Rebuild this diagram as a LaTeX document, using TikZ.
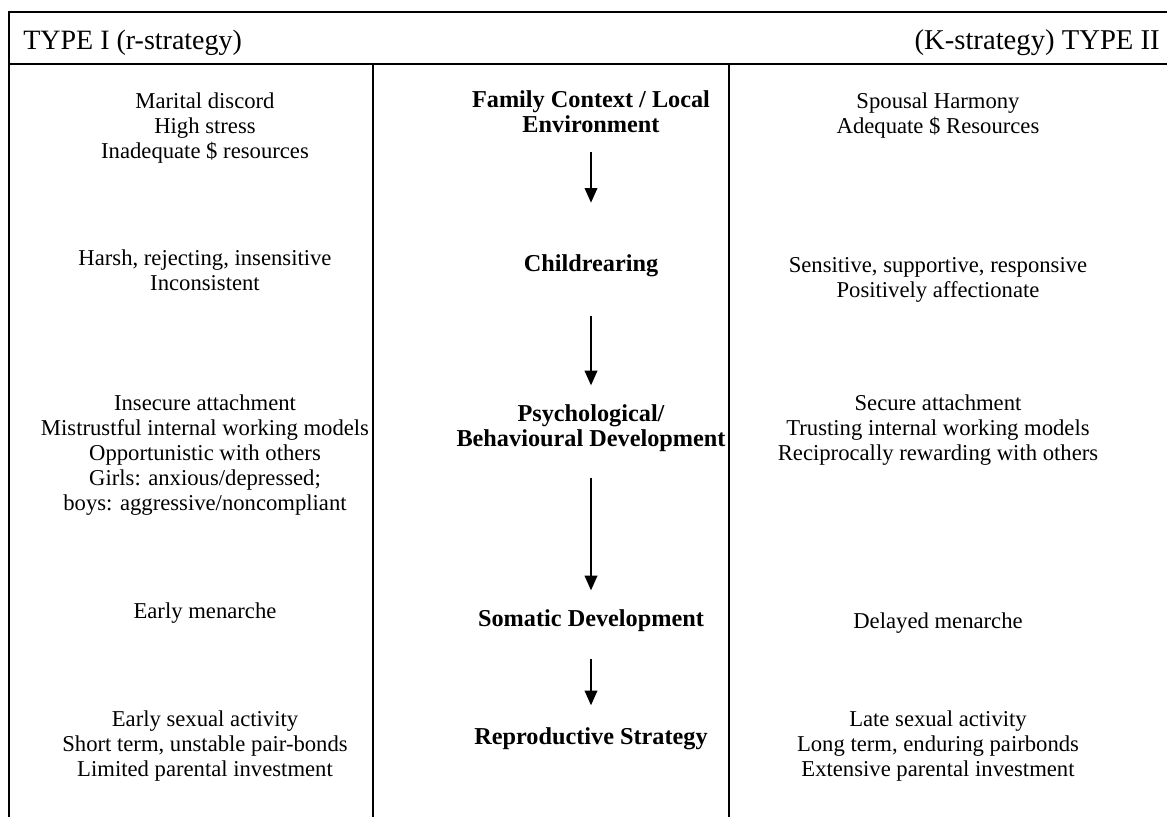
\documentclass[tikz,border=0pt]{standalone}
\usepackage{fontspec}
\setmainfont{Liberation Serif}
\usetikzlibrary{arrows.meta}

\begin{document}
\begin{tikzpicture}[x=0.75pt,y=-0.75pt,
    frame/.style={line width=1.4pt},
    item/.style={anchor=north,align=center,inner sep=0pt,
      font=\fontsize{17}{18.75}\selectfont},
    stage/.style={item,font=\fontsize{18.2}{18.8}\selectfont\bfseries},
    flow/.style={line width=1.1pt,-{Triangle[length=11pt,width=9.5pt]}}]
  \useasboundingbox (0,0) rectangle (1167,817);

  % table frame
  \draw[frame] (1167,12) -- (9,12) -- (9,817);
  \draw[frame] (9,64) -- (1167,64);
  \draw[frame] (373,64) -- (373,817);
  \draw[frame] (729,64) -- (729,817);

  % headings
  \node[anchor=base west, inner sep=0pt, font=\fontsize{21}{24}\selectfont] (typeI) at (23,50) {TYPE I (r-strategy)};
  \node[anchor=base east, inner sep=0pt, font=\fontsize{21.5}{24}\selectfont] (typeII) at (1160,50) {(K-strategy) TYPE II};

  % type I column
  \node[item] (left1) at (205,93) {Marital discord\\High stress\\Inadequate \$ resources};
  \node[item] (left2) at (205,250) {Harsh, rejecting, insensitive\\Inconsistent};
  \node[item] (left3) at (205,395) {Insecure attachment\\Mistrustful internal working models\\Opportunistic with others\\Girls: anxious/depressed;\\boys: aggressive/noncompliant};
  \node[item] (left4) at (205,602) {Early menarche};
  \node[item] (left5) at (205,710) {Early sexual activity\\Short term, unstable pair-bonds\\Limited parental investment};

  % stages
  \node[stage] (family) at (591,90) {Family Context / Local\\Environment};
  \node[stage] (rearing) at (591,254) {Childrearing};
  \node[stage] (psych) at (591,404) {Psychological/\\Behavioural Development};
  \node[stage] (somatic) at (591,609) {Somatic Development};
  \node[stage] (repro) at (591,727) {Reproductive Strategy};

  \draw[flow, shorten <=14.5pt, shorten >=38.5pt] (family) -- (rearing);
  \draw[flow, shorten <=29.5pt, shorten >=14pt] (rearing) -- (psych);
  \draw[flow, shorten <=19.5pt, shorten >=14pt] (psych) -- (somatic);
  \draw[flow, shorten <=20.5pt, shorten >=16.3pt] (somatic) -- (repro);

  % type II column
  \node[item] (right1) at (938,93) {Spousal Harmony\\Adequate \$ Resources};
  \node[item] (right2) at (938,257) {Sensitive, supportive, responsive\\Positively affectionate};
  \node[item] (right3) at (938,395) {Secure attachment\\Trusting internal working models\\Reciprocally rewarding with others};
  \node[item] (right4) at (938,612) {Delayed menarche};
  \node[item] (right5) at (938,710) {Late sexual activity\\Long term, enduring pairbonds\\Extensive parental investment};
\end{tikzpicture}
\end{document}
